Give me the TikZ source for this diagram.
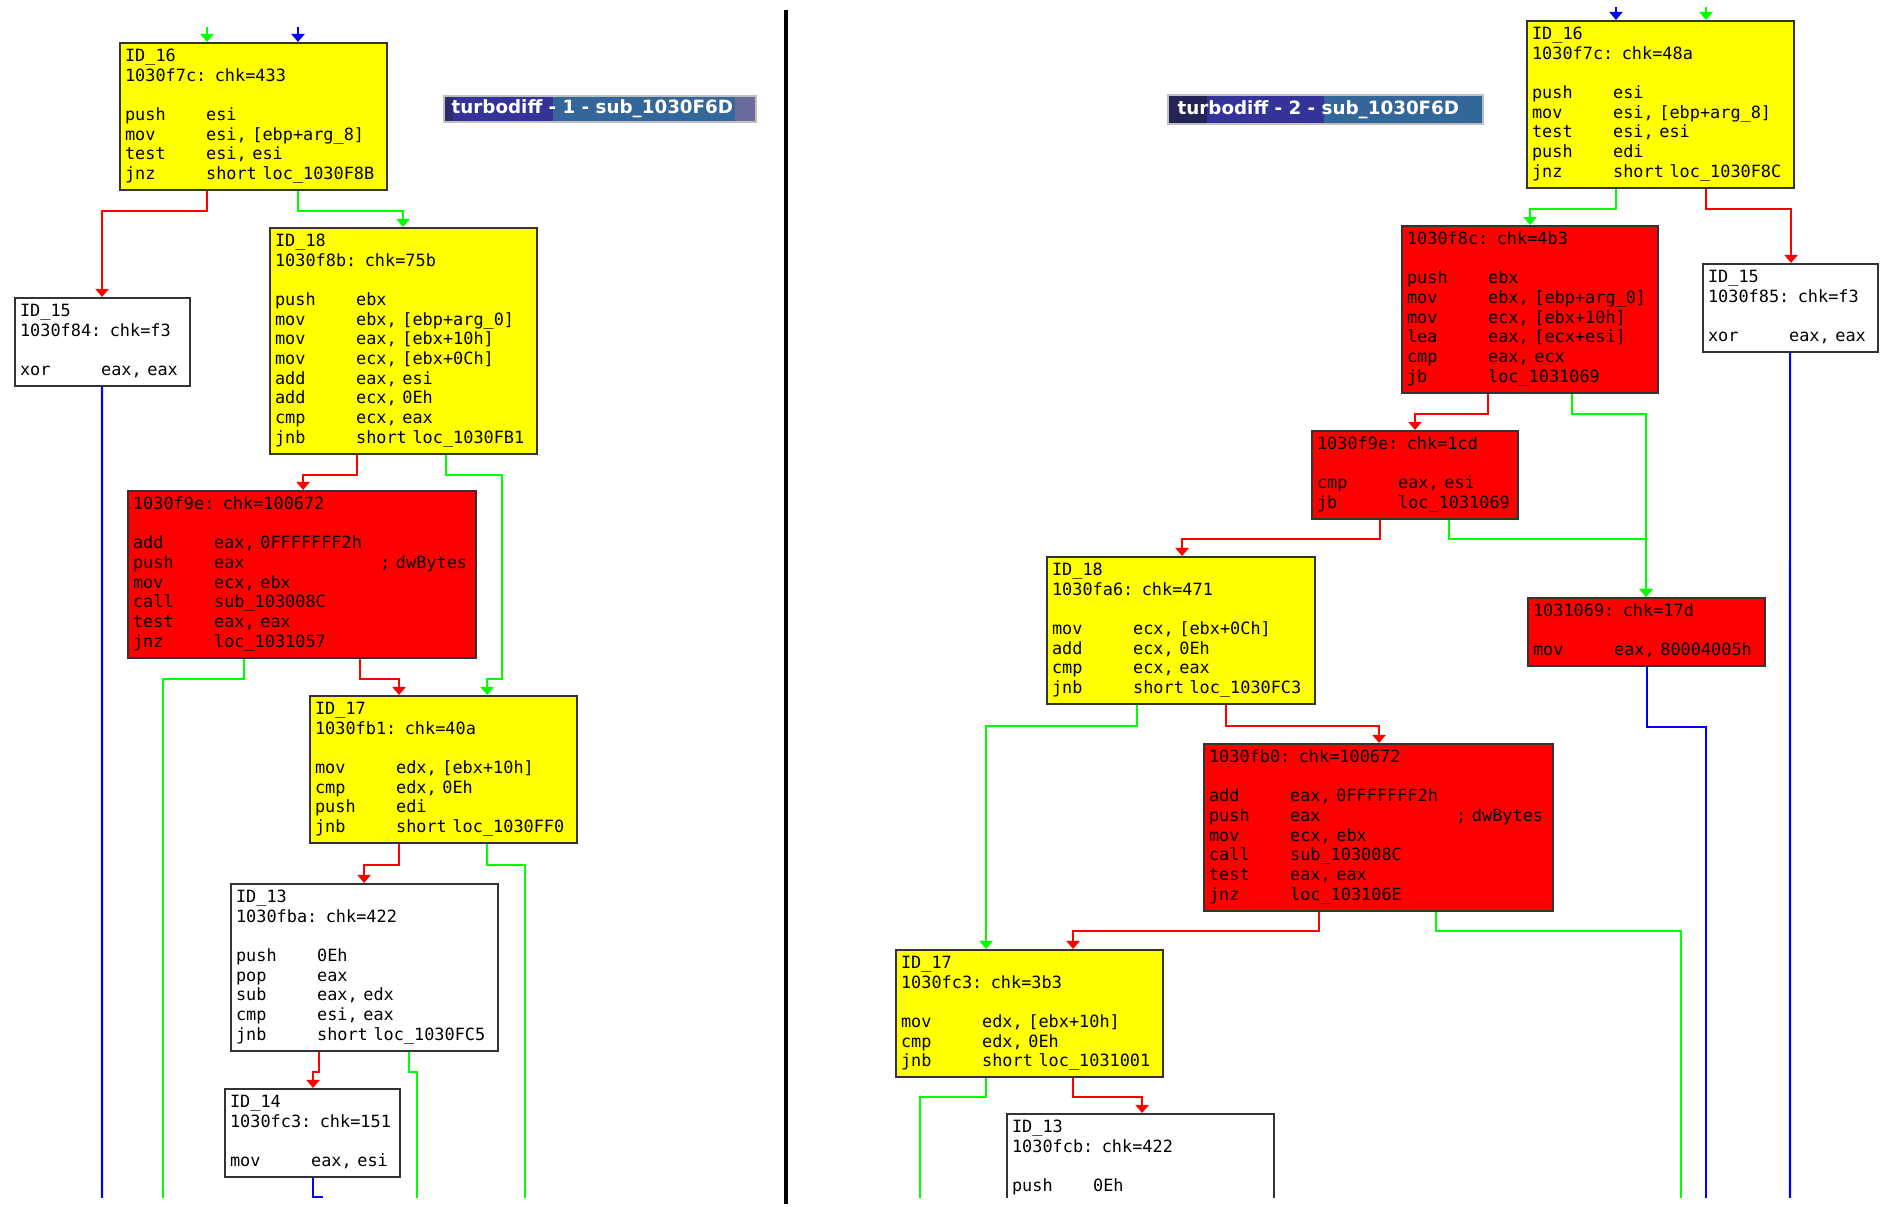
\documentclass[tikz,border=0pt]{standalone}
\usepackage{fontspec}
\usetikzlibrary{arrows.meta}
\newfontfamily\asmFont{DejaVu Sans Mono}
\newfontfamily\barFont{DejaVu Sans}
\definecolor{edgeGreen}{HTML}{00FF00}
\definecolor{edgeRed}{HTML}{FF0000}
\definecolor{edgeBlue}{HTML}{0000FF}
\definecolor{boxYellow}{HTML}{FFFF00}
\definecolor{boxRed}{HTML}{FF0000}
\definecolor{barNavy}{HTML}{2C2C6C}
\definecolor{barIndigo}{HTML}{333399}
\definecolor{barSteel}{HTML}{336699}
\definecolor{barGrey}{HTML}{6A6A9C}
\def \lineW {0.6pt}
\newcommand{\ins}[2]{\strut\makebox[0.81cm][l]{#1}#2}
\newcommand{\hd}[1]{\strut#1}

\begin{document}
\begin{tikzpicture}[x=0.01cm, y=-0.01cm,
  blk/.style={draw=black!80, line width=\lineW, anchor=north west, align=left,
    inner xsep=0.05cm, inner ysep=0.045cm, font={\asmFont\fontsize{4.8}{5.6}\selectfont}},
  yel/.style={blk, fill=boxYellow},
  rd/.style={blk, fill=boxRed},
  wht/.style={blk, fill=white},
  eg/.style={draw=edgeGreen, line width=\lineW},
  er/.style={draw=edgeRed, line width=\lineW},
  eb/.style={draw=edgeBlue, line width=\lineW},
  tip/.style={-{Triangle[width=0.13cm,length=0.08cm]}},
  ttl/.style={anchor=west, inner sep=0pt, text=white, font={\barFont\bfseries\fontsize{5.2}{6}\selectfont}}]
\useasboundingbox (0,0) rectangle (1887,1207);

\fill[barNavy] (444,96) rectangle (453,122);
\fill[barIndigo] (453,96) rectangle (553,122);
\fill[barSteel] (553,96) rectangle (735,122);
\fill[barGrey] (735,96) rectangle (756,122);
\draw[black!25, line width=0.3pt] (444,96) rectangle (756,122);
\node[ttl] (t1) at (451,109) {turbodiff - 1 - sub\_1030F6D};

\fill[barNavy!80!black] (1168,95) rectangle (1207,124);
\fill[barIndigo] (1207,95) rectangle (1324,124);
\fill[barSteel] (1324,95) rectangle (1483,124);
\draw[black!25, line width=0.3pt] (1168,95) rectangle (1483,124);
\node[ttl] (t2) at (1177,110) {turbodiff - 2 - sub\_1030F6D};

\draw[line width=0.04cm] (786,10) -- (786,1204);

\begin{scope}
\clip (0,0) rectangle (1887,1198);

\node[yel, text width=2.57cm] (l16) at (119,42) {\hd{ID\_16}\\\hd{1030f7c: chk=433}\\\strut\\\ins{push}{esi}\\\ins{mov}{esi, [ebp+arg\_8]}\\\ins{test}{esi, esi}\\\ins{jnz}{short loc\_1030F8B}};
\node[wht, text width=1.65cm] (l15) at (14,297) {\hd{ID\_15}\\\hd{1030f84: chk=f3}\\\strut\\\ins{xor}{eax, eax}};
\node[yel, text width=2.57cm] (l18) at (269,227) {\hd{ID\_18}\\\hd{1030f8b: chk=75b}\\\strut\\\ins{push}{ebx}\\\ins{mov}{ebx, [ebp+arg\_0]}\\\ins{mov}{eax, [ebx+10h]}\\\ins{mov}{ecx, [ebx+0Ch]}\\\ins{add}{eax, esi}\\\ins{add}{ecx, 0Eh}\\\ins{cmp}{ecx, eax}\\\ins{jnb}{short loc\_1030FB1}};
\node[rd, text width=3.38cm] (lr1) at (127,490) {\hd{1030f9e: chk=100672}\\\strut\\\ins{add}{eax, 0FFFFFFF2h}\\\ins{push}{\makebox[1.66cm][l]{eax};~dwBytes}\\\ins{mov}{ecx, ebx}\\\ins{call}{sub\_103008C}\\\ins{test}{eax, eax}\\\ins{jnz}{loc\_1031057}};
\node[yel, text width=2.57cm] (l17) at (309,695) {\hd{ID\_17}\\\hd{1030fb1: chk=40a}\\\strut\\\ins{mov}{edx, [ebx+10h]}\\\ins{cmp}{edx, 0Eh}\\\ins{push}{edi}\\\ins{jnb}{short loc\_1030FF0}};
\node[wht, text width=2.57cm] (l13) at (230,883) {\hd{ID\_13}\\\hd{1030fba: chk=422}\\\strut\\\ins{push}{0Eh}\\\ins{pop}{eax}\\\ins{sub}{eax, edx}\\\ins{cmp}{esi, eax}\\\ins{jnb}{short loc\_1030FC5}};
\node[wht, text width=1.65cm] (l14) at (224,1088) {\hd{ID\_14}\\\hd{1030fc3: chk=151}\\\strut\\\ins{mov}{eax, esi}};

\node[yel, text width=2.57cm] (r16) at (1526,20) {\hd{ID\_16}\\\hd{1030f7c: chk=48a}\\\strut\\\ins{push}{esi}\\\ins{mov}{esi, [ebp+arg\_8]}\\\ins{test}{esi, esi}\\\ins{push}{edi}\\\ins{jnz}{short loc\_1030F8C}};
\node[wht, text width=1.65cm] (r15) at (1702,263) {\hd{ID\_15}\\\hd{1030f85: chk=f3}\\\strut\\\ins{xor}{eax, eax}};
\node[rd, text width=2.46cm] (rr1) at (1401,225) {\hd{1030f8c: chk=4b3}\\\strut\\\ins{push}{ebx}\\\ins{mov}{ebx, [ebp+arg\_0]}\\\ins{mov}{ecx, [ebx+10h]}\\\ins{lea}{eax, [ecx+esi]}\\\ins{cmp}{eax, ecx}\\\ins{jb}{loc\_1031069}};
\node[rd, text width=1.96cm] (rr2) at (1311,430) {\hd{1030f9e: chk=1cd}\\\strut\\\ins{cmp}{eax, esi}\\\ins{jb}{loc\_1031069}};
\node[yel, text width=2.58cm] (r18) at (1046,556) {\hd{ID\_18}\\\hd{1030fa6: chk=471}\\\strut\\\ins{mov}{ecx, [ebx+0Ch]}\\\ins{add}{ecx, 0Eh}\\\ins{cmp}{ecx, eax}\\\ins{jnb}{short loc\_1030FC3}};
\node[rd, text width=2.27cm] (rr3) at (1527,597) {\hd{1031069: chk=17d}\\\strut\\\ins{mov}{eax, 80004005h}};
\node[rd, text width=3.39cm] (rr4) at (1203,743) {\hd{1030fb0: chk=100672}\\\strut\\\ins{add}{eax, 0FFFFFFF2h}\\\ins{push}{\makebox[1.66cm][l]{eax};~dwBytes}\\\ins{mov}{ecx, ebx}\\\ins{call}{sub\_103008C}\\\ins{test}{eax, eax}\\\ins{jnz}{loc\_103106E}};
\node[yel, text width=2.57cm] (r17) at (895,949) {\hd{ID\_17}\\\hd{1030fc3: chk=3b3}\\\strut\\\ins{mov}{edx, [ebx+10h]}\\\ins{cmp}{edx, 0Eh}\\\ins{jnb}{short loc\_1031001}};
\node[wht, text width=2.57cm] (r13) at (1006,1113) {\hd{ID\_13}\\\hd{1030fcb: chk=422}\\\strut\\\ins{push}{0Eh}};

\coordinate (lin1) at (207,27);
\coordinate (lin2) at (298,27);
\coordinate (rin1) at (1616,7);
\coordinate (rin2) at (1706,7);
\coordinate (b1) at (102,1210);
\coordinate (b2) at (163,1210);
\coordinate (b3) at (525,1210);
\coordinate (b4) at (417,1210);
\coordinate (b5) at (323,1197);
\coordinate (b6) at (1790,1210);
\coordinate (b7) at (1706,1210);
\coordinate (b8) at (1681,1210);
\coordinate (b9) at (920,1210);

\draw[eg, tip] (lin1) -- (lin1 |- l16.north);
\draw[eb, tip] (lin2) -- (lin2 |- l16.north);
\draw[er, tip] ([xshift=0.88cm]l16.south west) -- ++(0,20) -| ([xshift=0.88cm]l15.north west);
\draw[eg, tip] ([xshift=1.79cm]l16.south west) -- ++(0,20) -| ([xshift=1.34cm]l18.north west);
\draw[eb] ([xshift=0.88cm]l15.south west) -- (b1);
\draw[er, tip] ([xshift=0.88cm]l18.south west) -- ++(0,20) -| ([xshift=1.76cm]lr1.north west);
\draw[eg, tip] ([xshift=1.77cm]l18.south west) -- ++(0,20) -- ++(56,0) -- ++(0,204) -| ([xshift=1.78cm]l17.north west);
\draw[eg] ([xshift=1.17cm]lr1.south west) -- ++(0,20) -| (b2);
\draw[er, tip] ([xshift=2.33cm]lr1.south west) -- ++(0,20) -| ([xshift=0.90cm]l17.north west);
\draw[er, tip] ([xshift=0.90cm]l17.south west) -- ++(0,21) -| ([xshift=1.34cm]l13.north west);
\draw[eg] ([xshift=1.78cm]l17.south west) -- ++(0,21) -| (b3);
\draw[er, tip] ([xshift=0.89cm]l13.south west) -- ++(0,20) -| ([xshift=0.89cm]l14.north west);
\draw[eg] ([xshift=1.79cm]l13.south west) -- ++(0,20) -| (b4);
\draw[eb] ([xshift=0.89cm]l14.south west) |- (b5);

\draw[eb, tip] (rin1) -- (rin1 |- r16.north);
\draw[eg, tip] (rin2) -- (rin2 |- r16.north);
\draw[eg, tip] ([xshift=0.90cm]r16.south west) -- ++(0,20) -| ([xshift=1.29cm]rr1.north west);
\draw[er, tip] ([xshift=1.80cm]r16.south west) -- ++(0,20) -| ([xshift=0.89cm]r15.north west);
\draw[eb] ([xshift=0.88cm]r15.south west) -- (b6);
\draw[er, tip] ([xshift=0.87cm]rr1.south west) -- ++(0,20) -| ([xshift=1.04cm]rr2.north west);
\draw[eg, tip] ([xshift=1.71cm]rr1.south west) -- ++(0,20) -| ([xshift=1.19cm]rr3.north west);
\draw[er, tip] ([xshift=0.69cm]rr2.south west) -- ++(0,19) -| ([xshift=1.36cm]r18.north west);
\draw[eg, tip] ([xshift=1.38cm]rr2.south west) -- ++(0,19) -| ([xshift=1.19cm]rr3.north west);
\draw[eb] ([xshift=1.20cm]rr3.south west) -- ++(0,60) -| (b7);
\draw[eg, tip] ([xshift=0.91cm]r18.south west) -- ++(0,21) -| ([xshift=0.91cm]r17.north west);
\draw[er, tip] ([xshift=1.80cm]r18.south west) -- ++(0,21) -| ([xshift=1.76cm]rr4.north west);
\draw[er, tip] ([xshift=1.16cm]rr4.south west) -- ++(0,19) -| ([xshift=1.78cm]r17.north west);
\draw[eg] ([xshift=2.33cm]rr4.south west) -- ++(0,19) -| (b8);
\draw[eg] ([xshift=0.91cm]r17.south west) -- ++(0,19) -| (b9);
\draw[er, tip] ([xshift=1.78cm]r17.south west) -- ++(0,19) -| ([xshift=1.36cm]r13.north west);
\end{scope}
\end{tikzpicture}
\end{document}
